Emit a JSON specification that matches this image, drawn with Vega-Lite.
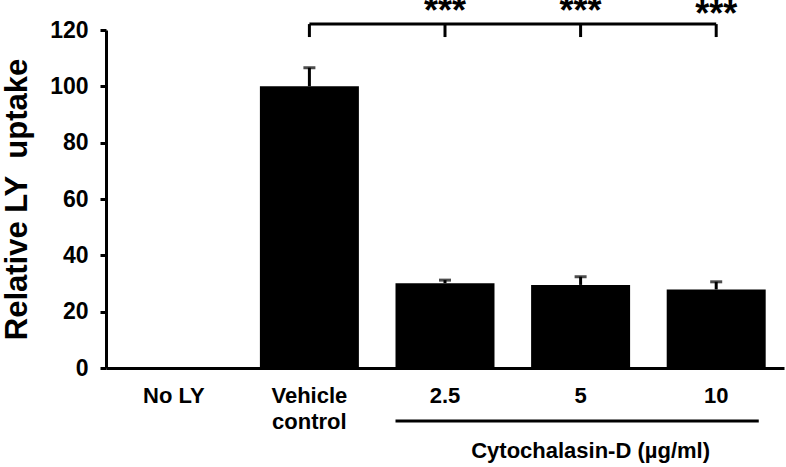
{
  "$schema": "https://vega.github.io/schema/vega-lite/v6.json",
  "width": 678,
  "height": 338,
  "autosize": {"type": "none"},
  "padding": {"left": 106, "top": 30, "right": 2, "bottom": 99},
  "background": "white",
  "config": {
    "view": {"stroke": null},
    "font": "Liberation Sans",
    "axis": {"grid": false, "domainColor": "black", "domainWidth": 3, "tickColor": "black", "tickWidth": 3, "labelColor": "black", "labelFont": "Liberation Sans", "labelFontWeight": "bold", "labelFontSize": 22, "titleColor": "black", "titleFont": "Liberation Sans", "titleFontWeight": "bold"}
  },
  "data": {"values": [
      {"cat": "No LY", "value": 0, "upper": null},
      {"cat": "Vehicle control", "value": 100, "upper": 106.6},
      {"cat": "2.5", "value": 30.1, "upper": 31.2},
      {"cat": "5", "value": 29.5, "upper": 32.4},
      {"cat": "10", "value": 27.9, "upper": 30.6}
  ]},
  "layer": [
    {
      "mark": {"type": "bar", "color": "black"},
      "encoding": {
        "x": {"field": "cat", "type": "nominal", "sort": null,
              "scale": {"domain": ["No LY", "Vehicle control", "2.5", "5", "10"], "paddingInner": 0.27, "paddingOuter": 0.135},
              "axis": {"title": null, "labelAngle": 0, "ticks": false, "labelPadding": 17, "labelBaseline": "top", "labelLineHeight": 26,
                       "labelExpr": "datum.label == 'Vehicle control' ? ['Vehicle', 'control'] : datum.label"}},
        "y": {"field": "value", "type": "quantitative",
              "scale": {"domain": [0, 120], "nice": false},
              "axis": {"title": "Relative LY\u00a0 uptake", "titleFontSize": 31, "titlePadding": 16, "values": [0, 20, 40, 60, 80, 100, 120], "tickSize": 6, "labelPadding": 12, "labelFontSize": 23}}
      }
    },
    {
      "transform": [{"filter": "isValid(datum.upper)"}],
      "mark": {"type": "rule", "color": "black", "strokeWidth": 3},
      "encoding": {
        "x": {"field": "cat", "type": "nominal", "sort": null},
        "y": {"field": "value", "type": "quantitative"},
        "y2": {"field": "upper"}
      }
    },
    {
      "transform": [{"filter": "isValid(datum.upper)"}],
      "mark": {"type": "tick", "color": "black", "size": 12, "thickness": 3, "orient": "horizontal"},
      "encoding": {
        "x": {"field": "cat", "type": "nominal", "sort": null},
        "y": {"field": "upper", "type": "quantitative"}
      }
    },
    {
      "data": {"values": [{"cat": "Vehicle control", "cat2": "10", "y": 122.1}]},
      "mark": {"type": "rule", "color": "black", "strokeWidth": 3},
      "encoding": {
        "x": {"field": "cat", "type": "nominal", "sort": null},
        "x2": {"field": "cat2"},
        "y": {"field": "y", "type": "quantitative"}
      }
    },
    {
      "data": {"values": [
        {"cat": "Vehicle control", "top": 122.1, "bottom": 117.5},
        {"cat": "2.5", "top": 122.1, "bottom": 117.5},
        {"cat": "5", "top": 122.1, "bottom": 117.5},
        {"cat": "10", "top": 122.1, "bottom": 117.5}
      ]},
      "mark": {"type": "rule", "color": "black", "strokeWidth": 3},
      "encoding": {
        "x": {"field": "cat", "type": "nominal", "sort": null},
        "y": {"field": "top", "type": "quantitative"},
        "y2": {"field": "bottom"}
      }
    },
    {
      "data": {"values": [
        {"cat": "2.5", "y": 122.4, "label": "***"},
        {"cat": "5", "y": 122.4, "label": "***"},
        {"cat": "10", "y": 121.3, "label": "***"}
      ]},
      "mark": {"type": "text", "color": "black", "font": "Liberation Sans", "fontWeight": "bold", "fontSize": 36, "baseline": "alphabetic", "align": "center"},
      "encoding": {
        "x": {"field": "cat", "type": "nominal", "sort": null},
        "y": {"field": "y", "type": "quantitative"},
        "text": {"field": "label"}
      }
    },
    {
      "data": {"values": [{"a": "2.5", "b": "10", "y": -18.8}]},
      "mark": {"type": "rule", "color": "black", "strokeWidth": 3},
      "encoding": {
        "x": {"field": "a", "type": "nominal", "sort": null, "bandPosition": 0},
        "x2": {"field": "b", "bandPosition": 0.93},
        "y": {"field": "y", "type": "quantitative"}
      }
    },
    {
      "data": {"values": [{"a": "5", "y": -31.9, "t": "Cytochalasin-D (µg/ml)"}]},
      "mark": {"type": "text", "color": "black", "font": "Liberation Sans", "fontWeight": "bold", "fontSize": 22, "baseline": "alphabetic", "align": "center", "dx": 10},
      "encoding": {
        "x": {"field": "a", "type": "nominal", "sort": null},
        "y": {"field": "y", "type": "quantitative"},
        "text": {"field": "t"}
      }
    }
  ]
}
